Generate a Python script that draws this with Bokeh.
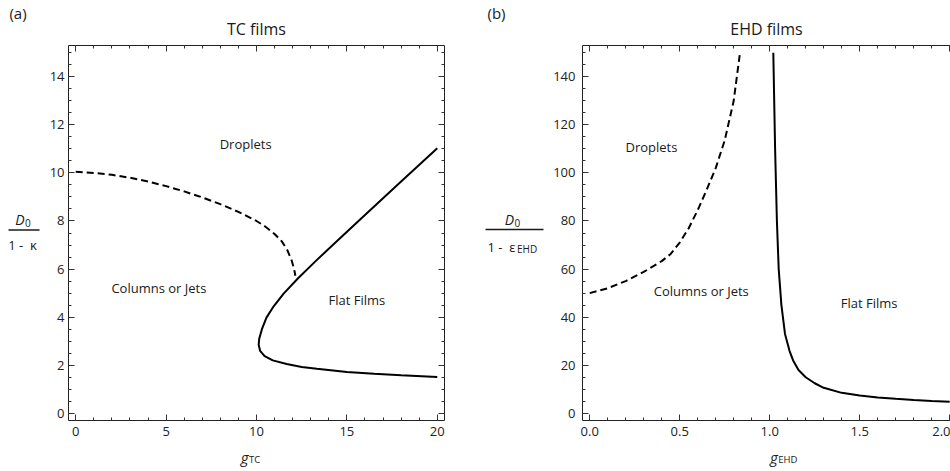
from bokeh.plotting import figure
from bokeh.layouts import row, column
from bokeh.models import (Label, LinearAxis, Range1d, SingleIntervalTicker,
                          CustomJSTickFormatter, PrintfTickFormatter)
from bokeh.core.properties import value
from bokeh.embed import file_html
from bokeh.resources import INLINE

FONT = "Open Sans"
INK = "#1a1a1a"

# ---- (a) TC films: phase boundaries in (g_TC, D0/(1-kappa)) ----
tc_dash_g = [0.0, 1.0, 2.0, 3.0, 4.0, 5.0, 6.0, 7.0, 8.0, 9.0, 10.0, 10.5, 11.0,
             11.4, 11.7, 11.95, 12.08, 12.15]
tc_dash_d = [10.05, 10.0, 9.92, 9.8, 9.64, 9.45, 9.23, 8.98, 8.7, 8.38, 8.0, 7.76,
             7.46, 7.15, 6.8, 6.35, 6.0, 5.72]
tc_solid_g = [20.0, 18.0, 16.0, 14.5, 13.3, 12.3, 11.5, 10.95, 10.55, 10.3, 10.15,
              10.12, 10.2, 10.45, 10.9, 11.67, 12.5, 13.34, 15.0, 16.5, 18.0, 20.0]
tc_solid_d = [11.03, 9.64, 8.25, 7.2, 6.35, 5.62, 4.98, 4.45, 3.98, 3.5, 3.1,
              2.85, 2.6, 2.38, 2.2, 2.05, 1.93, 1.85, 1.72, 1.64, 1.58, 1.51]
tc_regions = ["Droplets", "Columns or Jets", "Flat Films"]
tc_region_g = [9.4, 4.6, 15.55]
tc_region_d = [11.2, 5.2, 4.7]

# ---- (b) EHD films: phase boundaries in (g_EHD, D0/(1-eps_EHD)) ----
ehd_dash_g = [0.0, 0.1, 0.2, 0.3, 0.4, 0.45, 0.5, 0.55, 0.6, 0.65, 0.7, 0.75,
              0.8, 0.835]
ehd_dash_d = [50.0, 52.0, 55.0, 58.8, 63.3, 66.3, 71.0, 77.0, 84.5, 93.0, 102.0,
              113.5, 130.0, 150.0]
ehd_solid_g = [1.02, 1.03, 1.04, 1.05, 1.065, 1.085, 1.11, 1.13, 1.16, 1.2, 1.25,
               1.3, 1.4, 1.5, 1.6, 1.7, 1.8, 1.9, 2.0]
ehd_solid_d = [150.0, 110.0, 80.0, 60.0, 45.0, 33.0, 26.0, 22.0, 18.0, 15.0, 12.5,
               10.6, 8.5, 7.4, 6.6, 6.0, 5.55, 5.15, 4.85]
ehd_regions = ["Droplets", "Columns or Jets", "Flat Films"]
ehd_region_g = [0.343, 0.62, 1.552]
ehd_region_d = [110.7, 50.9, 46.0]

H = 471          # page height
MAIN_H = 444     # plot height, the x-axis label strip takes the rest
FOOT_H = H - MAIN_H


def style_axis(ax, show_labels=True):
    ax.major_tick_in = 6
    ax.major_tick_out = 0
    ax.minor_tick_in = 3
    ax.minor_tick_out = 0
    ax.axis_line_color = "#222222"
    ax.axis_line_width = 1
    ax.major_tick_line_color = "#333333"
    ax.minor_tick_line_color = "#333333"
    ax.major_label_text_font = FONT
    ax.major_label_text_font_size = "13px"
    ax.major_label_text_color = "#222222"
    if not show_labels:
        ax.formatter = CustomJSTickFormatter(code="return ''")
        ax.major_label_text_font_size = "0px"
        ax.major_label_standoff = 0


def panel(width, left, right, xr, yr, xint, xminor, yint, yminor, xfmt,
          right_axis, title, ystandoff):
    p = figure(width=width, height=MAIN_H, x_range=Range1d(*xr), y_range=Range1d(*yr),
               output_backend="svg", toolbar_location=None,
               x_axis_location=None, y_axis_location=None,
               min_border_left=left, min_border_right=right,
               min_border_top=45, min_border_bottom=MAIN_H - 420,
               outline_line_color=None, background_fill_color="white",
               border_fill_color="white")
    p.grid.grid_line_color = None
    p.title.text = title
    p.title.align = "center"
    p.title.text_font = FONT
    p.title.text_font_size = "16px"
    p.title.text_font_style = "normal"
    p.title.text_color = INK
    p.title.standoff = 12
    xt = SingleIntervalTicker(interval=xint, num_minor_ticks=xminor)
    yt = SingleIntervalTicker(interval=yint, num_minor_ticks=yminor)
    bx = LinearAxis(ticker=xt)
    if xfmt:
        bx.formatter = xfmt
    style_axis(bx)
    bx.major_label_standoff = 6
    p.add_layout(bx, "below")
    ly = LinearAxis(ticker=yt)
    style_axis(ly)
    ly.major_label_standoff = ystandoff
    p.add_layout(ly, "left")
    tx = LinearAxis(ticker=xt)
    style_axis(tx, False)
    p.add_layout(tx, "above")
    if right_axis:
        ry = LinearAxis(ticker=yt)
        style_axis(ry, False)
        p.add_layout(ry, "right")
    return p


def strip(width, height):
    # plain drawing area whose data units are pixels, y growing downward
    s = figure(width=width, height=height, x_range=Range1d(0, width),
               y_range=Range1d(height, 0), output_backend="svg",
               toolbar_location=None, x_axis_location=None, y_axis_location=None,
               min_border=0, min_border_left=0, min_border_right=0,
               min_border_top=0, min_border_bottom=0, outline_line_color=None,
               title_location=None, background_fill_color="white",
               border_fill_color="white")
    s.grid.grid_line_color = None
    return s


def put(s, x, y, text, size, style="normal", align="center", baseline="middle"):
    s.text(x=[x], y=[y], text=[text], text_font=value(FONT),
           text_font_size=value(size), text_font_style=value(style),
           text_color=INK, text_align=value(align), text_baseline=value(baseline))


def region_labels(p, names, gs, ds):
    for t, g, d in zip(names, gs, ds):
        p.add_layout(Label(x=g, y=d, text=t, text_font=FONT, text_font_size="13px",
                           text_color=INK, text_align="center",
                           text_baseline="middle"))


# x-axis label baselines inside the 27 px strips
G_BASE = 457 - MAIN_H - 1
SUB_BASE = G_BASE + 2.5

# ---------------- panel (a) ----------------
side_a = strip(45, H)
put(side_a, 17.5, 12, "(a)", "15px")
put(side_a, 24, 219, "D", "14px", "italic", "right")
put(side_a, 24.5, 222, "0", "10px", "normal", "left")
side_a.line([8, 39], [229.5, 229.5], line_color=INK, line_width=1.3)
put(side_a, 22, 244, "1 - \u00a0\u03ba", "13px")

pa = panel(430, 23, 31, (-0.4, 20.4), (-0.3, 15.3), 5, 5, 2, 4, None, True,
           "TC films", 4)
pa.line(tc_dash_g, tc_dash_d, line_color="black", line_width=2, line_dash="7 4")
pa.line(tc_solid_g, tc_solid_d, line_color="black", line_width=2)
region_labels(pa, tc_regions, tc_region_g, tc_region_d)

foot_a = strip(430, FOOT_H)
put(foot_a, 206, G_BASE, "g", "15px", "italic", "right", "alphabetic")
put(foot_a, 206.5, SUB_BASE, "TC", "9.5px", "normal", "left", "alphabetic")

# ---------------- panel (b) ----------------
side_b = strip(70, H)
put(side_b, 21, 12, "(b)", "15px")
put(side_b, 38.5, 219, "D", "14px", "italic", "right")
put(side_b, 39, 222, "0", "10px", "normal", "left")
side_b.line([10, 68], [229, 229], line_color=INK, line_width=1.3)
put(side_b, 40, 246, "1 - \u00a0\u03b5", "13px", "normal", "right")
put(side_b, 41.5, 248, "EHD", "10px", "normal", "left")

pb = panel(405, 37, 0, (-0.04, 2.0044), (-3, 153), 0.5, 5, 20, 4,
           PrintfTickFormatter(format="%.1f"), False, "EHD films", 7)
pb.line(ehd_dash_g, ehd_dash_d, line_color="black", line_width=2, line_dash="7 4")
pb.line(ehd_solid_g, ehd_solid_d, line_color="black", line_width=2)
region_labels(pb, ehd_regions, ehd_region_g, ehd_region_d)

foot_b = strip(405, FOOT_H)
put(foot_b, 215, G_BASE, "g", "15px", "italic", "right", "alphabetic")
put(foot_b, 215.5, SUB_BASE, "EHD", "9.5px", "normal", "left", "alphabetic")

layout = row(side_a, column(pa, foot_a), side_b, column(pb, foot_b))
open("out.html", "w").write(file_html(layout, INLINE))
